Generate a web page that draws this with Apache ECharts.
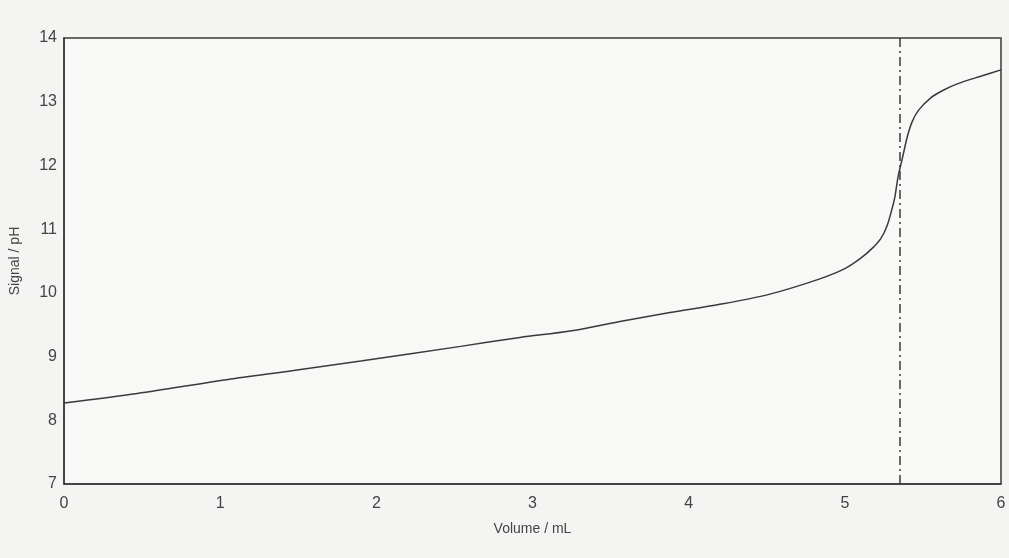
<!DOCTYPE html>
<html>
<head>
<meta charset="utf-8">
<script src="https://cdn.jsdelivr.net/npm/echarts@6/dist/echarts.min.js"></script>
<style>
html,body{margin:0;padding:0;background:#f4f4f3;}
#c{width:1009px;height:558px;}
</style>
</head>
<body>
<div id="c"></div>
<script>
var volume = [0, 0.47, 1.05, 1.47, 1.9, 2.54, 2.92, 3.24, 3.56, 3.88, 4.20, 4.52, 4.84, 5.0, 5.10, 5.18, 5.23, 5.27, 5.30, 5.32, 5.34, 5.37, 5.40, 5.43, 5.47, 5.55, 5.63, 5.72, 5.87, 6.0];
var ph =     [8.27, 8.42, 8.64, 8.78, 8.93, 9.16, 9.30, 9.40, 9.55, 9.69, 9.82, 9.98, 10.22, 10.38, 10.54, 10.71, 10.85, 11.05, 11.30, 11.50, 11.81, 12.13, 12.45, 12.68, 12.86, 13.06, 13.18, 13.28, 13.40, 13.50];
var endpoint = 5.35;
var xTicks = [0, 1, 2, 3, 4, 5, 6];
var yTicks = [7, 8, 9, 10, 11, 12, 13, 14];

var pts = volume.map(function (v, i) { return [v, ph[i]]; });
var chart = echarts.init(document.getElementById('c'));
chart.setOption({
  backgroundColor: '#f4f4f3',
  animation: false,
  grid: {left: 63, right: 8, top: 38, bottom: 74, show: true, borderColor: '#3a3a3a', borderWidth: 1.5, backgroundColor: '#f8f8f7'},
  xAxis: {
    type: 'value', min: 0, max: 6, interval: 1,
    name: 'Volume / mL', nameLocation: 'middle', nameGap: 38,
    nameTextStyle: {fontFamily: 'Liberation Sans', fontSize: 14, color: '#444'},
    axisLine: {show: true, lineStyle: {color: '#3a3a3a', width: 1.5}},
    axisTick: {show: false},
    splitLine: {show: false},
    axisLabel: {fontFamily: 'Liberation Sans', fontSize: 16, color: '#444', margin: 12,
      formatter: function (v) { return xTicks.indexOf(v) >= 0 ? String(v) : ''; }}
  },
  yAxis: {
    type: 'value', min: 7, max: 14, interval: 1,
    name: 'Signal / pH', nameLocation: 'middle', nameGap: 42,
    nameTextStyle: {fontFamily: 'Liberation Sans', fontSize: 14, color: '#444'},
    axisLine: {show: true, lineStyle: {color: '#3a3a3a', width: 1.5}},
    axisTick: {show: false},
    splitLine: {show: false},
    axisLabel: {fontFamily: 'Liberation Sans', fontSize: 16, color: '#444', margin: 7,
      formatter: function (v) { return yTicks.indexOf(v) >= 0 ? String(v) : ''; }}
  },
  series: [{
    type: 'line',
    data: pts,
    smooth: 0.3,
    showSymbol: false,
    lineStyle: {color: '#3a3a3a', width: 1.5},
    markLine: {
      silent: true,
      symbol: 'none',
      label: {show: false},
      lineStyle: {color: '#3a3a3a', width: 1.5, type: [9, 4, 2, 4]},
      data: [{xAxis: endpoint}]
    }
  }]
});
</script>
</body>
</html>
